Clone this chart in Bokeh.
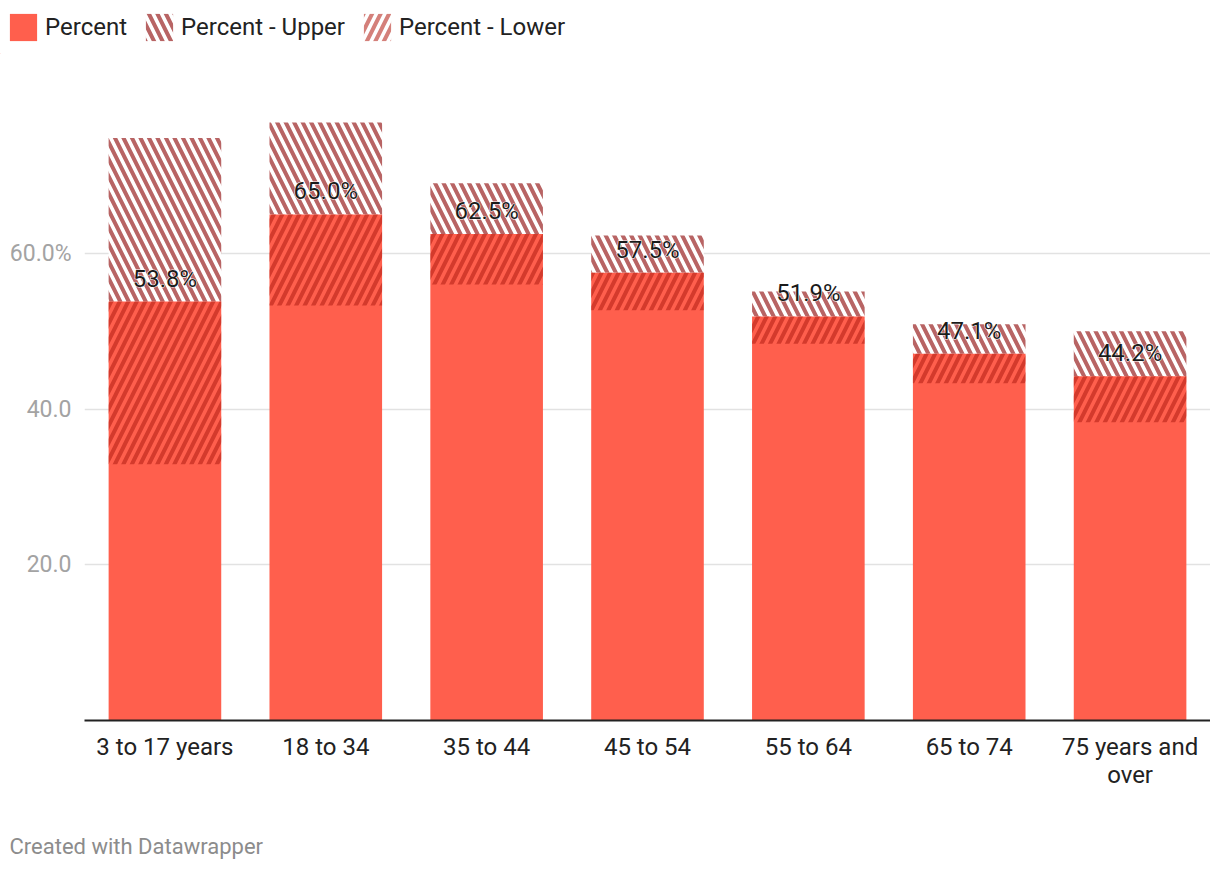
from bokeh.plotting import figure
from bokeh.layouts import column
from bokeh.models import (Legend, LegendItem, FixedTicker, ColumnDataSource, Range1d)
from bokeh.core.properties import value
from bokeh.embed import file_html
from bokeh.resources import INLINE

categories = ["3 to 17 years", "18 to 34", "35 to 44", "45 to 54",
              "55 to 64", "65 to 74", "75 years and over"]
percent = [53.8, 65.0, 62.5, 57.5, 51.9, 47.1, 44.2]
upper = [74.8, 76.8, 69.0, 62.3, 55.1, 50.9, 50.0]
lower = [32.9, 53.3, 56.0, 52.7, 48.4, 43.3, 38.3]
labels = [f"{v:.1f}%" for v in percent]
y_ticks = [20, 40, 60]
y_tick_labels = ["20.0", "40.0", "60.0%"]
x_tick_labels = ["3 to 17 years", "18 to 34", "35 to 44", "45 to 54",
                 "55 to 64", "65 to 74", "75 years and\nover"]

FONT = "Roboto"
RED = "#ff5f4d"
UP_HATCH = dict(fill_color="white", line_color=None, hatch_pattern="\\",
                hatch_color="#b86464", hatch_scale=17, hatch_weight=4)
LOW_HATCH = dict(fill_alpha=0, line_color=None, hatch_pattern="/",
                 hatch_color="#b21c12", hatch_alpha=0.56, hatch_scale=17,
                 hatch_weight=4)

xs = list(range(len(categories)))
src = ColumnDataSource(dict(x=xs, cat=categories, percent=percent, upper=upper,
                            lower=lower, label=labels))

# ---------------- legend strip ----------------
lf = figure(width=1210, height=54, x_range=Range1d(0, 1210), y_range=Range1d(0, 54),
            output_backend="svg", toolbar_location=None, min_border=0,
            x_axis_location=None, y_axis_location=None)
lf.frame_align = False
lf.grid.visible = False
lf.outline_line_color = None
# legend-only renderers: their single bar lies outside the visible range
dummy = ColumnDataSource(dict(x=[-500], top=[1]))
d_pct = lf.vbar(x="x", top="top", width=1, source=dummy, fill_color=RED, line_color=None)
d_up = lf.vbar(x="x", top="top", width=1, source=dummy, **UP_HATCH)
d_low = lf.vbar(x="x", top="top", width=1, source=dummy, **LOW_HATCH)
legend = Legend(items=[LegendItem(label="Percent", renderers=[d_pct]),
                       LegendItem(label="Percent - Upper", renderers=[d_up]),
                       LegendItem(label="Percent - Lower", renderers=[d_low])],
                orientation="horizontal", location=(6, 10),
                glyph_width=34, glyph_height=34, label_standoff=5, spacing=15,
                padding=0, margin=0, border_line_color=None,
                background_fill_alpha=0, label_text_font=FONT,
                label_text_font_size="24px", label_text_color="#222222",
                label_text_baseline="middle")
lf.add_layout(legend)

# ---------------- main chart ----------------
p = figure(x_range=Range1d(-0.5, 6.5), y_range=Range1d(0, 82.2),
           width=1210, height=776, output_backend="svg", toolbar_location=None,
           min_border_left=84, min_border_right=0, min_border_top=26,
           min_border_bottom=110)
p.frame_align = False
p.outline_line_color = None

p.vbar(x="x", bottom="percent", top="upper", width=0.7, source=src, **UP_HATCH)
p.vbar(x="x", bottom=0, top="percent", width=0.7, source=src,
       fill_color=RED, line_color=None)
p.vbar(x="x", bottom="lower", top="percent", width=0.7, source=src, **LOW_HATCH)

# white halo then dark text
p.text(x="x", y="percent", text="label", source=src, text_align="center",
       text_baseline="alphabetic", y_offset=-23, text_font=value(FONT),
       text_font_size="24px", text_color="white", text_outline_color="white")
p.text(x="x", y="percent", text="label", source=src, text_align="center",
       text_baseline="alphabetic", y_offset=-23, text_font=value(FONT),
       text_font_size="24px", text_color="#1a1a1a")

p.yaxis.ticker = FixedTicker(ticks=y_ticks)
p.yaxis.major_label_overrides = {t: l for t, l in zip(y_ticks, y_tick_labels)}
p.yaxis.axis_line_color = None
p.yaxis.major_tick_line_color = None
p.yaxis.minor_tick_line_color = None
p.yaxis.major_label_standoff = 7
p.yaxis.major_label_text_font = FONT
p.yaxis.major_label_text_font_size = "23px"
p.yaxis.major_label_text_color = "#a3a3a3"

p.ygrid.grid_line_color = "#e2e2e2"
p.ygrid.grid_line_width = 1.5
p.xgrid.grid_line_color = None

p.xaxis.ticker = FixedTicker(ticks=xs)
p.xaxis.major_label_overrides = {i: l for i, l in zip(xs, x_tick_labels)}
p.xaxis.axis_line_color = "#222222"
p.xaxis.axis_line_width = 2
p.xaxis.major_tick_line_color = None
p.xaxis.minor_tick_line_color = None
p.xaxis.major_label_standoff = 6
p.xaxis.major_label_text_font = FONT
p.xaxis.major_label_text_font_size = "24px"
p.xaxis.major_label_text_color = "#222222"
p.xaxis.major_label_text_line_height = 1.0

# ---------------- footer strip ----------------
ff = figure(width=1210, height=34, x_range=Range1d(0, 1210), y_range=Range1d(0, 34),
            output_backend="svg", toolbar_location=None, min_border=0,
            x_axis_location=None, y_axis_location=None)
ff.frame_align = False
ff.grid.visible = False
ff.outline_line_color = None
ff.text(x=[9], y=[18], text=["Created with Datawrapper"], text_font=value(FONT),
        text_font_size="22px", text_color="#8c8c8c", text_baseline="middle")

layout = column(lf, p, ff, spacing=0)
open("out.html", "w").write(file_html(layout, INLINE))
